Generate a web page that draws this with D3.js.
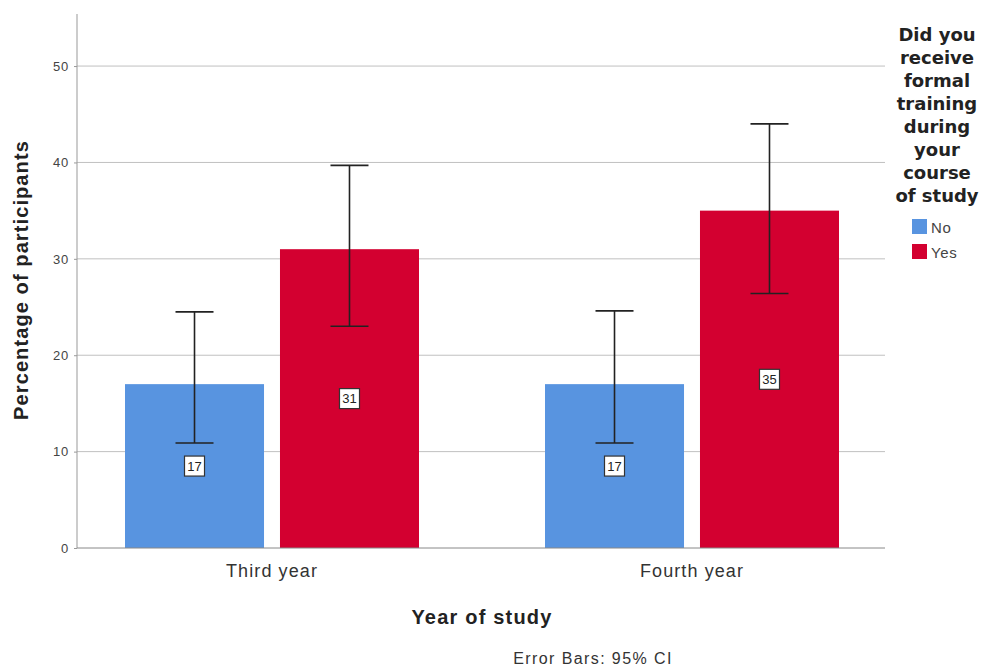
<!DOCTYPE html>
<html><head><meta charset="utf-8">
<script src="https://cdn.jsdelivr.net/npm/d3@7/dist/d3.min.js"></script>
<style>body{margin:0;background:#fff}svg{display:block}</style>
</head><body>
<svg id="c" width="986" height="671"></svg>
<script>
const categories = ["Third year", "Fourth year"];
const groups = ["No", "Yes"];
const values = { "No": [17, 17], "Yes": [31, 35] };
const ciLow = { "No": [10.9, 10.9], "Yes": [23.0, 26.4] };
const ciHigh = { "No": [24.5, 24.6], "Yes": [39.7, 44.0] };
const yTicks = [0, 10, 20, 30, 40, 50];
const colors = { "No": "#5894e0", "Yes": "#d30030" };
const legendTitle = ["Did you", "receive", "formal", "training", "during", "your", "course", "of study"];

(function () {
const svg = d3.select("#c");
const F = "Liberation Sans, Arial, sans-serif";
const pL = 77, pR = 885, pT = 14, pB = 548;

const y = d3.scaleLinear().domain([0, 55.4]).range([pB, pT]);
const x0 = d3.scaleBand().domain(categories).range([62, 902]).padding(0);
const x1 = d3.scaleBand().domain(groups).range([63, 357]).paddingInner(0.103).paddingOuter(0);

// gridlines
svg.append("g").selectAll("line").data(yTicks.filter(d => d > 0)).join("line")
  .attr("x1", pL).attr("x2", pR).attr("y1", d => y(d)).attr("y2", d => y(d))
  .attr("stroke", "#c0c0c0").attr("stroke-width", 1);

// y axis
const yAxis = d3.axisLeft(y).tickValues(yTicks).tickSize(3).tickPadding(5);
const ga = svg.append("g").attr("transform", `translate(${pL},0)`).call(yAxis);
ga.select(".domain").attr("stroke", "#999").attr("d", `M0,${pT}V${pB}`);
ga.selectAll(".tick line").attr("stroke", "#999");
ga.selectAll("text").attr("font-family", F).attr("font-size", 13).attr("letter-spacing", 0.8).attr("fill", "#444");

// bars
const rows = [];
categories.forEach((c, i) => groups.forEach(g => rows.push({ c, g, v: values[g][i], lo: ciLow[g][i], hi: ciHigh[g][i] })));
const bx = d => x0(d.c) + x1(d.g);
svg.append("g").selectAll("rect").data(rows).join("rect")
  .attr("x", bx).attr("width", x1.bandwidth())
  .attr("y", d => y(d.v)).attr("height", d => y(0) - y(d.v))
  .attr("fill", d => colors[d.g]);

// x axis baseline
svg.append("line").attr("x1", pL).attr("x2", pR).attr("y1", pB).attr("y2", pB)
  .attr("stroke", "#888").attr("stroke-width", 1);

// error bars
const eb = svg.append("g").attr("stroke", "#222").attr("stroke-width", 1.6);
rows.forEach(d => {
  const cx = bx(d) + x1.bandwidth() / 2;
  eb.append("line").attr("x1", cx).attr("x2", cx).attr("y1", y(d.lo)).attr("y2", y(d.hi));
  eb.append("line").attr("x1", cx - 19).attr("x2", cx + 19).attr("y1", y(d.lo)).attr("y2", y(d.lo));
  eb.append("line").attr("x1", cx - 19).attr("x2", cx + 19).attr("y1", y(d.hi)).attr("y2", y(d.hi));
});

// value labels
rows.forEach(d => {
  const cx = bx(d) + x1.bandwidth() / 2, cy = y(d.v / 2);
  svg.append("rect").attr("x", cx - 10).attr("y", cy - 10).attr("width", 20).attr("height", 20)
    .attr("fill", "#fff").attr("stroke", "#333").attr("stroke-width", 1.2);
  svg.append("text").attr("x", cx).attr("y", cy + 4.5).attr("text-anchor", "middle")
    .attr("font-family", F).attr("font-size", 13).attr("fill", "#222").text(d.v);
});

// x tick labels
svg.append("g").selectAll("text").data(categories).join("text")
  .attr("x", d => x0(d) + x0.bandwidth() / 2).attr("y", 577).attr("text-anchor", "middle")
  .attr("font-family", F).attr("font-size", 18).attr("letter-spacing", 1.1).attr("fill", "#333").text(d => d);

// axis titles
svg.append("text").attr("x", 482).attr("y", 624).attr("text-anchor", "middle")
  .attr("font-family", F).attr("font-size", 20).attr("letter-spacing", 1.2).attr("font-weight", "bold").attr("fill", "#222").text("Year of study");
svg.append("text").attr("transform", "translate(28,280) rotate(-90)").attr("text-anchor", "middle")
  .attr("font-family", F).attr("font-size", 20).attr("letter-spacing", 1.1).attr("font-weight", "bold").attr("fill", "#222").text("Percentage of participants");

svg.append("text").attr("x", 593).attr("y", 664).attr("text-anchor", "middle")
  .attr("font-family", F).attr("font-size", 16).attr("letter-spacing", 1.4).attr("fill", "#333").text("Error Bars: 95% CI");

// legend
const lg = svg.append("g");
lg.selectAll("text").data(legendTitle).join("text")
  .attr("x", 937).attr("y", (d, i) => 41 + i * 23).attr("text-anchor", "middle")
  .attr("font-family", "DejaVu Sans, sans-serif").attr("font-size", 18).attr("font-weight", "bold").attr("fill", "#222").text(d => d);
groups.forEach((g, i) => {
  lg.append("rect").attr("x", 912).attr("y", 219 + i * 25).attr("width", 15).attr("height", 15).attr("fill", colors[g]);
  lg.append("text").attr("x", 931).attr("y", 233 + i * 25).attr("font-family", F).attr("font-size", 15).attr("letter-spacing", 0.6).attr("fill", "#444").text(g);
});
})();
</script>
</body></html>
